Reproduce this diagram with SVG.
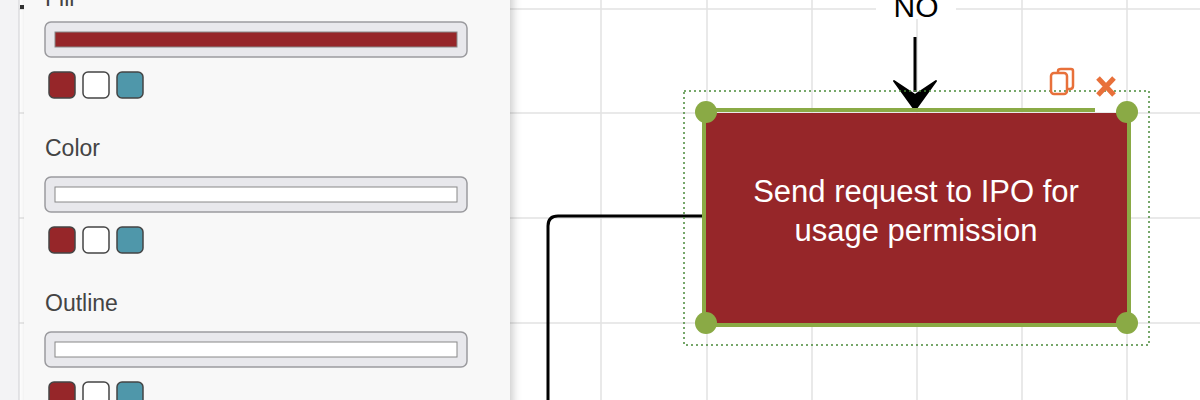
<svg xmlns="http://www.w3.org/2000/svg" width="1200" height="400" viewBox="0 0 1200 400">
<defs>
<style>
.grid{stroke:#e2e2e2;stroke-width:1.5}
.lbl{font-family:"Liberation Sans",Arial,sans-serif;font-size:23px;fill:#444}
.well{fill:#e8e8ec;stroke:#9a9a9e;stroke-width:1.5}
.sw{stroke:#444;stroke-width:1.5}
.h{fill:#8aaa45}
</style>
<filter id="sh" x="-10%" y="-10%" width="130%" height="130%"><feDropShadow dx="3" dy="0" stdDeviation="4" flood-color="#000" flood-opacity="0.2"/></filter>
</defs>
<rect width="1200" height="400" fill="#ffffff"/>
<g id="grid">
<line class="grid" x1="0" y1="9" x2="1200" y2="9"/>
<line class="grid" x1="0" y1="113" x2="1200" y2="113"/>
<line class="grid" x1="0" y1="218" x2="1200" y2="218"/>
<line class="grid" x1="0" y1="323" x2="1200" y2="323"/>
<line class="grid" x1="601" y1="0" x2="601" y2="400"/>
<line class="grid" x1="707" y1="0" x2="707" y2="400"/>
<line class="grid" x1="812" y1="0" x2="812" y2="400"/>
<line class="grid" x1="917" y1="0" x2="917" y2="400"/>
<line class="grid" x1="1022" y1="0" x2="1022" y2="400"/>
<line class="grid" x1="1127" y1="0" x2="1127" y2="400"/>
</g>
<rect x="0" y="0" width="19" height="400" fill="#f3f3f5"/>
<line x1="19" y1="0" x2="19" y2="400" stroke="#d0d0d4" stroke-width="1"/>
<rect x="20" y="5" width="4" height="4" fill="#333"/>
<g id="connectors" fill="none" stroke="#000" stroke-width="3">
<path d="M705 216 H558 Q548 216 548 226 V400"/>
<line x1="915" y1="37" x2="915" y2="92"/>
<path d="M894 81 L915 110 L936 81 L915 95 Z" fill="#000" stroke="#000" stroke-width="2" stroke-linejoin="round"/>
</g>
<g id="no-label">
<rect x="876" y="-5" width="80" height="24" fill="#fff"/>
<text x="916" y="17" text-anchor="middle" font-family="Liberation Sans,Arial,sans-serif" font-size="30" fill="#000">NO</text>
</g>
<g id="node">
<rect x="684" y="91" width="465" height="254" fill="none" stroke="#4a8a3a" stroke-width="1.5" stroke-dasharray="2 3"/>
<rect x="706" y="113" width="421" height="210" fill="#962629"/>
<path d="M706 110 H1095" stroke="#8aaa45" stroke-width="4"/>
<path d="M704 113 V323 M1129 113 V323 M706 325 H1127" stroke="#8aaa45" stroke-width="4" fill="none"/>
<circle class="h" cx="706" cy="112" r="11"/>
<circle class="h" cx="1127" cy="112" r="11"/>
<circle class="h" cx="706" cy="323" r="11"/>
<circle class="h" cx="1127" cy="323" r="11"/>
<text font-family="Liberation Sans,Arial,sans-serif" font-size="31" fill="#fff" text-anchor="middle"><tspan x="916" y="202">Send request to IPO for</tspan><tspan x="916" y="241">usage permission</tspan></text>
<g fill="none" stroke="#e8703a" stroke-width="2.5">
<rect x="1051" y="73" width="16" height="21" rx="3"/>
<path d="M1058 73 V71 Q1058 69 1061 69 H1071 Q1073 69 1073 71 V86 Q1073 89 1070 89 H1067"/>
<path d="M1098 78 L1114 95 M1114 78 L1098 95" stroke-width="5"/>
</g>
</g>
<g id="panel">
<rect x="24" y="-10" width="486" height="420" fill="#f8f8f8" filter="url(#sh)"/>
<text class="lbl" x="45" y="6">Fill</text>
<rect class="well" x="45" y="22" width="422" height="35" rx="6"/>
<rect x="55" y="32" width="402" height="15" fill="#962629" stroke="#888" stroke-width="1"/>
<rect class="sw" x="49" y="72" width="26" height="26" rx="5" fill="#962629"/>
<rect class="sw" x="83" y="72" width="26" height="26" rx="5" fill="#fff"/>
<rect class="sw" x="117" y="72" width="26" height="26" rx="5" fill="#4f97aa"/>
<text class="lbl" x="45" y="156">Color</text>
<rect class="well" x="45" y="177" width="422" height="35" rx="6"/>
<rect x="55" y="187" width="402" height="15" fill="#fff" stroke="#888" stroke-width="1"/>
<rect class="sw" x="49" y="227" width="26" height="26" rx="5" fill="#962629"/>
<rect class="sw" x="83" y="227" width="26" height="26" rx="5" fill="#fff"/>
<rect class="sw" x="117" y="227" width="26" height="26" rx="5" fill="#4f97aa"/>
<text class="lbl" x="45" y="311">Outline</text>
<rect class="well" x="45" y="332" width="422" height="35" rx="6"/>
<rect x="55" y="342" width="402" height="15" fill="#fff" stroke="#888" stroke-width="1"/>
<rect class="sw" x="49" y="382" width="26" height="26" rx="5" fill="#962629"/>
<rect class="sw" x="83" y="382" width="26" height="26" rx="5" fill="#fff"/>
<rect class="sw" x="117" y="382" width="26" height="26" rx="5" fill="#4f97aa"/>
</g>
</svg>
